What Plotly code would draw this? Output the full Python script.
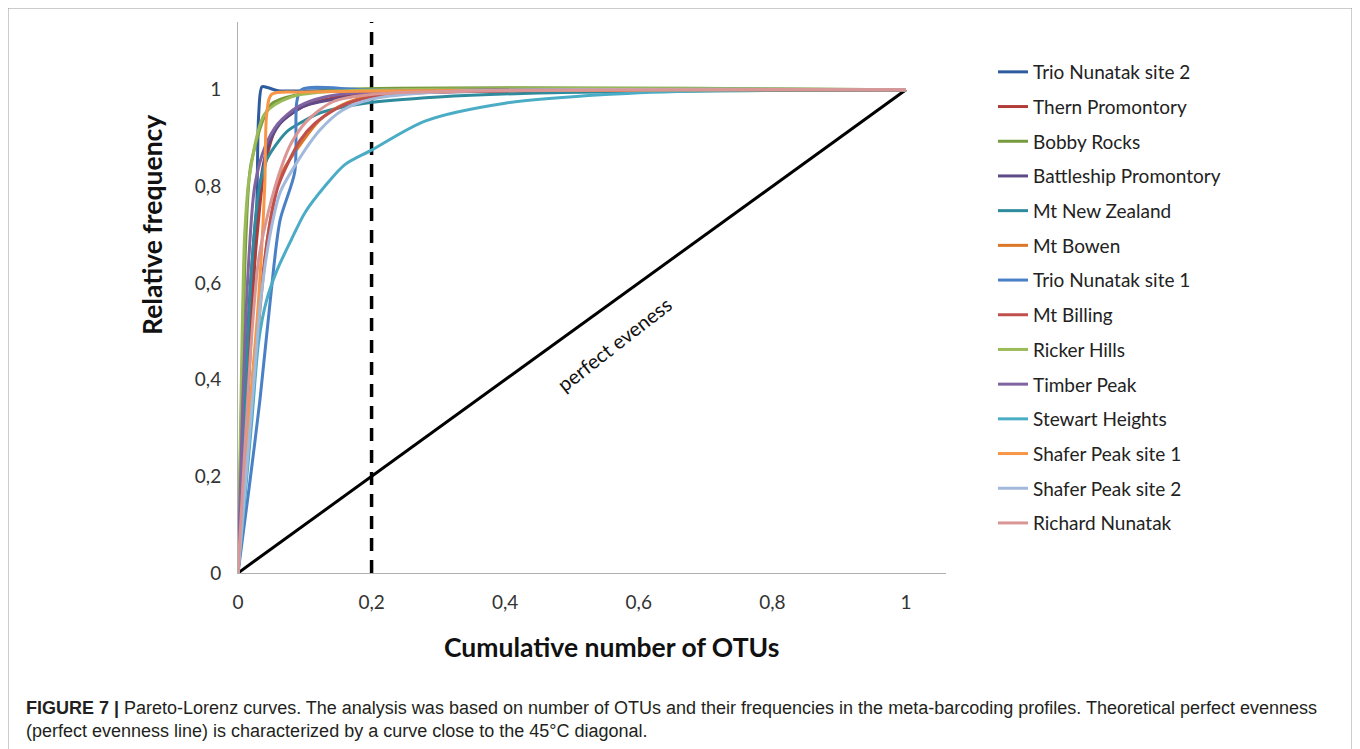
import plotly.graph_objects as go

# ---- data ----
series_names = [
    "Trio Nunatak site 2", "Thern Promontory", "Bobby Rocks", "Battleship Promontory",
    "Mt New Zealand", "Mt Bowen", "Trio Nunatak site 1", "Mt Billing", "Ricker Hills",
    "Timber Peak", "Stewart Heights", "Shafer Peak site 1", "Shafer Peak site 2",
    "Richard Nunatak",
]
series_colors = [
    "#2F5C9E", "#B03B37", "#779A3C", "#5E4A86", "#2E8B9D", "#DC7628", "#4A80C6",
    "#C0504D", "#9BBB59", "#8064A2", "#4BACC6", "#F79646", "#A3B9DC", "#D99694",
]

trio2_x = [0, 0.01, 0.02, 0.028, 0.031, 0.036, 0.045, 0.06, 0.2, 1]
trio2_y = [0, 0.25, 0.5, 0.75, 0.95, 1.006, 1.004, 0.998, 1.0, 1.0]

thern_x = [0, 0.01, 0.02, 0.03, 0.04, 0.058, 0.097, 0.15, 0.2, 0.3, 1]
thern_y = [0, 0.3, 0.55, 0.72, 0.84, 0.923, 0.965, 0.985, 0.993, 0.998, 1]

bobby_x = [0, 0.006, 0.012, 0.02, 0.05, 0.09, 0.15, 1]
bobby_y = [0, 0.4, 0.7, 0.85, 0.97, 0.99, 1.0, 1]

battle_x = [0, 0.008, 0.018, 0.028, 0.043, 0.063, 0.097, 0.123, 0.2, 1]
battle_y = [0, 0.3, 0.58, 0.75, 0.875, 0.93, 0.965, 0.975, 0.99, 1]

mtnz_x = [0, 0.01, 0.02, 0.03, 0.043, 0.073, 0.097, 0.123, 0.19, 0.3, 0.45, 1]
mtnz_y = [0, 0.35, 0.62, 0.78, 0.855, 0.913, 0.934, 0.952, 0.972, 0.985, 0.993, 1]

bowen_x = [0, 0.015, 0.03, 0.045, 0.063, 0.09, 0.123, 0.157, 0.193, 0.243, 0.35, 1]
bowen_y = [0, 0.25, 0.5, 0.7, 0.82, 0.88, 0.938, 0.969, 0.986, 0.994, 0.998, 1]

trio1_x = [0, 0.017, 0.033, 0.048, 0.063, 0.085, 0.088, 0.095, 0.2, 1]
trio1_y = [0, 0.18, 0.36, 0.56, 0.73, 0.83, 0.975, 1.0, 1.0, 1]

billing_x = [0, 0.015, 0.03, 0.045, 0.06, 0.093, 0.115, 0.153, 0.2, 0.3, 1]
billing_y = [0, 0.27, 0.52, 0.7, 0.8, 0.895, 0.93, 0.965, 0.985, 0.995, 1]

ricker_x = [0, 0.005, 0.01, 0.017, 0.04, 0.08, 0.15, 1]
ricker_y = [0, 0.4, 0.7, 0.82, 0.95, 0.985, 0.997, 1]

timber_x = [0, 0.007, 0.015, 0.025, 0.04, 0.06, 0.09, 0.13, 0.2, 1]
timber_y = [0, 0.35, 0.62, 0.8, 0.88, 0.93, 0.965, 0.985, 0.995, 1]

stewart_x = [0, 0.01, 0.021, 0.031, 0.042, 0.058, 0.08, 0.1, 0.13, 0.16, 0.2, 0.28, 0.4, 0.55, 0.7, 1]
stewart_y = [0, 0.15, 0.32, 0.48, 0.56, 0.625, 0.69, 0.745, 0.8, 0.845, 0.875, 0.935, 0.972, 0.99, 0.998, 1]

shafer1_x = [0, 0.015, 0.03, 0.04, 0.043, 0.05, 0.1, 1]
shafer1_y = [0, 0.3, 0.55, 0.8, 0.95, 0.99, 0.995, 1]

shafer2_x = [0, 0.012, 0.024, 0.034, 0.048, 0.063, 0.088, 0.123, 0.157, 0.2, 0.3, 1]
shafer2_y = [0, 0.2, 0.4, 0.565, 0.7, 0.787, 0.849, 0.917, 0.958, 0.98, 0.995, 1]

richard_x = [0, 0.01, 0.02, 0.031, 0.046, 0.065, 0.08, 0.103, 0.142, 0.2, 1]
richard_y = [0, 0.25, 0.48, 0.65, 0.75, 0.84, 0.89, 0.935, 0.975, 0.99, 1]

series_x = [trio2_x, thern_x, bobby_x, battle_x, mtnz_x, bowen_x, trio1_x,
            billing_x, ricker_x, timber_x, stewart_x, shafer1_x, shafer2_x, richard_x]
series_y = [trio2_y, thern_y, bobby_y, battle_y, mtnz_y, bowen_y, trio1_y,
            billing_y, ricker_y, timber_y, stewart_y, shafer1_y, shafer2_y, richard_y]

diag_x = [0, 1]
diag_y = [0, 1]
cutoff_x = 0.2

tick_vals = [0, 0.2, 0.4, 0.6, 0.8, 1]
tick_text = ["0", "0,2", "0,4", "0,6", "0,8", "1"]

# ---- figure ----
OFF = 8  # page body margin
W, H = 1360 - OFF, 749 - OFF
L, T = 238 - OFF, 22 - OFF
PR, PB = 946 - OFF, 573 - OFF
R, B = W - PR, H - PB
pw, ph = PR - L, PB - T

def px_x(p):
    return (p - OFF - L) / pw

def px_y(p):
    return (PB - (p - OFF)) / ph

fig = go.Figure()

fig.add_trace(go.Scatter(x=diag_x, y=diag_y, mode="lines",
                         line=dict(color="black", width=3), showlegend=False,
                         hoverinfo="skip"))
fig.add_trace(go.Scatter(x=[cutoff_x, cutoff_x], y=[0, 1.14], mode="lines",
                         line=dict(color="black", width=3.5, dash="13px,9px"),
                         showlegend=False, hoverinfo="skip"))

for name, color, xs, ys in zip(series_names, series_colors, series_x, series_y):
    fig.add_trace(go.Scatter(x=xs, y=ys, mode="lines", name=name, legendgroup=name,
                             line=dict(color=color, width=3, shape="spline",
                                       smoothing=0.8)))

axis_common = dict(showgrid=False, zeroline=False, showline=True, linecolor="#B0B0B0",
                   linewidth=1, tickvals=tick_vals, ticktext=tick_text,
                   tickfont=dict(family="Lato", size=19, color="#333333"),
                   ticks="outside", ticklen=12, tickcolor="rgba(0,0,0,0)")

fig.update_xaxes(range=[0, 1.06], **axis_common)
fig.update_yaxes(range=[0, 1.14], **axis_common)

fig.update_layout(
    width=W, height=H,
    margin=dict(l=L, r=R, t=T, b=B),
    paper_bgcolor="white", plot_bgcolor="white",
    showlegend=True,
    legend=dict(x=px_x(993), y=px_y(53), xanchor="left", yanchor="top",
                font=dict(family="Lato", size=19, color="#222222"),
                tracegroupgap=7, itemwidth=30, bgcolor="rgba(0,0,0,0)"),
)

# frame around the figure (bottom edge lies beyond the visible page)
fig.add_shape(type="rect", xref="paper", yref="paper",
              x0=px_x(8), x1=px_x(1352), y0=px_y(760), y1=px_y(8),
              line=dict(color="#9A9A9A", width=1), layer="below")

annotations = [
    dict(text="<b>Relative frequency</b>", x=px_x(152), y=px_y(225), textangle=-90,
         font=dict(family="Lato", size=26.5, color="#111111")),
    dict(text="<b>Cumulative number of OTUs</b>", x=px_x(611), y=px_y(647),
         font=dict(family="Lato", size=26.5, color="#111111")),
    dict(text="perfect eveness", x=0.563, y=0.474, xref="x", yref="y", textangle=-38,
         font=dict(family="Lato", size=20, color="#111111")),
    dict(text="<b>FIGURE 7 |</b> Pareto-Lorenz curves. The analysis was based on number of OTUs and their frequencies in the meta-barcoding profiles. Theoretical perfect evenness",
         x=px_x(24), y=px_y(708), xanchor="left",
         font=dict(family="Liberation Sans", size=18, color="#231F20")),
    dict(text="(perfect evenness line) is characterized by a curve close to the 45°C diagonal.",
         x=px_x(24), y=px_y(731), xanchor="left",
         font=dict(family="Liberation Sans", size=18, color="#231F20")),
]
for a in annotations:
    a.setdefault("xref", "paper")
    a.setdefault("yref", "paper")
    a.setdefault("yanchor", "middle")
    a.setdefault("xanchor", "center")
    a["showarrow"] = False
    fig.add_annotation(**a)

fig.write_html("out.html")
